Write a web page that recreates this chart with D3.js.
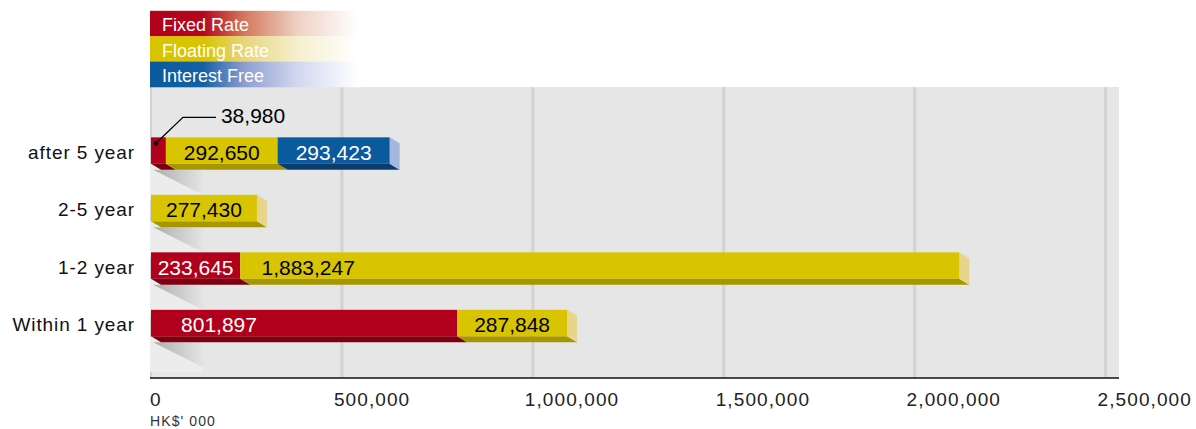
<!DOCTYPE html>
<html>
<head>
<meta charset="utf-8">
<script src="https://cdn.jsdelivr.net/npm/d3@7"></script>
<style>
  html, body { margin: 0; padding: 0; background: #ffffff; }
  svg { display: block; font-family: "Liberation Sans", Arial, Helvetica, sans-serif; }
</style>
</head>
<body>
<svg id="chart" width="1196" height="429"></svg>
<script>
// Maturity profile of borrowings, HK$' 000
const categories = ["after 5 year", "2-5 year", "1-2 year", "Within 1 year"];
const seriesNames = ["Fixed Rate", "Floating Rate", "Interest Free"];
const fixedRate = [38980, 0, 233645, 801897];
const floatingRate = [292650, 277430, 1883247, 287848];
const interestFree = [293423, 0, 0, 0];
const tickValues = [0, 500000, 1000000, 1500000, 2000000, 2500000];
const unitLabel = "HK$' 000";

const palette = {
  "Fixed Rate":    { front: "#b1001c", bottom: "#7c0012", side: "#e7a0a8", text: "#ffffff",
                     legend: ["#b1001c", "#b5071d", "#d47b5f", "#efd2c4", "#ffffff"] },
  "Floating Rate": { front: "#d8c400", bottom: "#a69600", side: "#e8d58c", text: "#000000",
                     legend: ["#d8c400", "#d8c400", "#e8d67e", "#f6efd0", "#ffffff"] },
  "Interest Free": { front: "#0b5a9e", bottom: "#0a3d6d", side: "#a4b7e0", text: "#ffffff",
                     legend: ["#0b5a9e", "#1560a6", "#8e9fd0", "#d2d8ef", "#ffffff"] }
};

const rows = categories.map((c, i) => ({
  category: c,
  "Fixed Rate": fixedRate[i],
  "Floating Rate": floatingRate[i],
  "Interest Free": interestFree[i]
}));

const svg = d3.select("#chart");
const plot = { left: 150, right: 1119, top: 87, bottom: 378 };

const x = d3.scaleLinear().domain([0, 2500000]).range([151, 1105.5]);
const y = d3.scaleBand().domain(categories)
  .range([121.8, 121.8 + 4 * 57.5]).paddingInner(0.54).paddingOuter(0.27);
const barH = 26.5, depthX = 10, depthY = 6;

const defs = svg.append("defs");

// plot background
svg.append("rect")
  .attr("x", plot.left).attr("y", plot.top)
  .attr("width", plot.right - plot.left).attr("height", plot.bottom - plot.top)
  .attr("fill", "#e6e6e6");

// vertical gridlines
svg.append("g").selectAll("line").data(tickValues).join("line")
  .attr("x1", d => x(d)).attr("x2", d => x(d))
  .attr("y1", plot.top).attr("y2", plot.bottom)
  .attr("stroke", "#d3d3d3").attr("stroke-width", d => d === 0 ? 2 : 3);

// cast shadows under each bar
const shadowGrad = defs.append("linearGradient").attr("id", "shadowGrad")
  .attr("x1", "0%").attr("x2", "100%").attr("y1", "0%").attr("y2", "0%");
shadowGrad.append("stop").attr("offset", "0%").attr("stop-color", "#aeaeae");
shadowGrad.append("stop").attr("offset", "100%").attr("stop-color", "#e4e4e4");

const shadowW = 53, shadowH = 36;
const shadows = svg.append("g").selectAll("g").data(categories).join("g");
shadows.append("rect")
  .attr("x", x(0) - 1).attr("y", d => y(d) + barH)
  .attr("width", shadowW).attr("height", shadowH)
  .attr("fill", "#ececec");
shadows.append("path")
  .attr("d", d => {
    const y1 = y(d) + barH + depthY, x0 = x(0) + 2;
    return `M${x0},${y1}L${x0 + shadowW - 3},${y1}L${x0 + shadowW - 3},${y1 + 25}Z`;
  })
  .attr("fill", "url(#shadowGrad)");

// stacked 3D bars
const stacked = d3.stack().keys(seriesNames)(rows);
const segments = [];
stacked.forEach(layer => {
  layer.forEach((s, i) => {
    const v = s[1] - s[0];
    if (v > 0) segments.push({ key: layer.key, category: categories[i], x0: s[0], x1: s[1], value: v });
  });
});
// last segment of each bar carries the visible end face
const lastByCat = {};
segments.forEach(s => {
  if (!lastByCat[s.category] || s.x1 > lastByCat[s.category].x1) lastByCat[s.category] = s;
});

const bars = svg.append("g");
bars.selectAll("path.bottom").data(segments).join("path")
  .attr("class", "bottom")
  .attr("d", s => {
    const a = x(s.x0), b = x(s.x1), y1 = y(s.category) + barH;
    return `M${a},${y1}L${b},${y1}L${b + depthX},${y1 + depthY}L${a + depthX},${y1 + depthY}Z`;
  })
  .attr("fill", s => palette[s.key].bottom);

bars.selectAll("path.side").data(Object.values(lastByCat)).join("path")
  .attr("class", "side")
  .attr("d", s => {
    const b = x(s.x1), y0 = y(s.category), y1 = y0 + barH;
    return `M${b},${y0}L${b + depthX},${y0 + depthY}L${b + depthX},${y1 + depthY}L${b},${y1}Z`;
  })
  .attr("fill", s => palette[s.key].side);

bars.selectAll("rect.front").data(segments).join("rect")
  .attr("class", "front")
  .attr("x", s => x(s.x0)).attr("y", s => y(s.category))
  .attr("width", s => x(s.x1) - x(s.x0)).attr("height", barH)
  .attr("fill", s => palette[s.key].front);

// value labels
const fmt = d3.format(",");
const inside = segments.filter(s => x(s.x1) - x(s.x0) >= 40);
const outside = segments.filter(s => x(s.x1) - x(s.x0) < 40);

svg.append("g").selectAll("text").data(inside).join("text")
  .attr("x", s => {
    const w = x(s.x1) - x(s.x0);
    return x(s.x0) + Math.min(w / 2, 68);
  })
  .attr("y", s => y(s.category) + 22.5)
  .attr("text-anchor", "middle")
  .attr("font-size", 21)
  .attr("fill", s => palette[s.key].text)
  .text(s => fmt(s.value));

// callouts for segments too narrow to hold their label
const callouts = svg.append("g").selectAll("g").data(outside).join("g");
callouts.append("circle")
  .attr("cx", s => (x(s.x0) + x(s.x1)) / 2 - 2.5)
  .attr("cy", s => y(s.category) + 6)
  .attr("r", 2.3).attr("fill", "#000");
callouts.append("path")
  .attr("d", s => {
    const cx = (x(s.x0) + x(s.x1)) / 2 - 2.5, cy = y(s.category) + 6;
    return `M${cx},${cy}L${cx + 27},${cy - 26}L${cx + 60},${cy - 26}`;
  })
  .attr("fill", "none").attr("stroke", "#000").attr("stroke-width", 1.3);
callouts.append("text")
  .attr("x", s => (x(s.x0) + x(s.x1)) / 2 + 62.5)
  .attr("y", s => y(s.category) - 14)
  .attr("font-size", 21).attr("fill", "#000")
  .text(s => fmt(s.value));

// category labels
svg.append("g").selectAll("text").data(categories).join("text")
  .attr("x", 135).attr("y", d => y(d) + 21.5)
  .attr("text-anchor", "end")
  .attr("font-size", 19).attr("letter-spacing", 0.9)
  .attr("fill", "#111")
  .text(d => d);

// x axis
svg.append("line")
  .attr("x1", plot.left).attr("x2", plot.right)
  .attr("y1", plot.bottom).attr("y2", plot.bottom)
  .attr("stroke", "#111").attr("stroke-width", 1.6);

svg.append("g").selectAll("text").data(tickValues).join("text")
  .attr("x", d => Math.max(x(d) - 8, x(0) - 1))
  .attr("y", 406)
  .attr("font-size", 19).attr("letter-spacing", 1.1)
  .attr("fill", "#222")
  .text(d => fmt(d));

svg.append("text")
  .attr("x", 150).attr("y", 426)
  .attr("font-size", 14).attr("letter-spacing", 1.1).attr("fill", "#333")
  .text(unitLabel);

// legend: colour bands fading to white
const legend = svg.append("g");
const bandH = 25.4, legendTop = 10.8, legendW = 212;
seriesNames.forEach((name, i) => {
  const grad = defs.append("linearGradient").attr("id", "lg" + i)
    .attr("x1", "0%").attr("x2", "100%").attr("y1", "0%").attr("y2", "0%");
  const offs = [0, 0.25, 0.45, 0.7, 0.98];
  palette[name].legend.forEach((c, k) => {
    grad.append("stop").attr("offset", offs[k]).attr("stop-color", c);
  });
  legend.append("rect")
    .attr("x", plot.left).attr("y", legendTop + i * bandH)
    .attr("width", legendW).attr("height", bandH + 0.3)
    .attr("fill", `url(#lg${i})`);
  legend.append("text")
    .attr("x", 162).attr("y", legendTop + i * bandH + 20.5)
    .attr("font-size", 18).attr("fill", "#ffffff")
    .text(name);
});
</script>
</body>
</html>
